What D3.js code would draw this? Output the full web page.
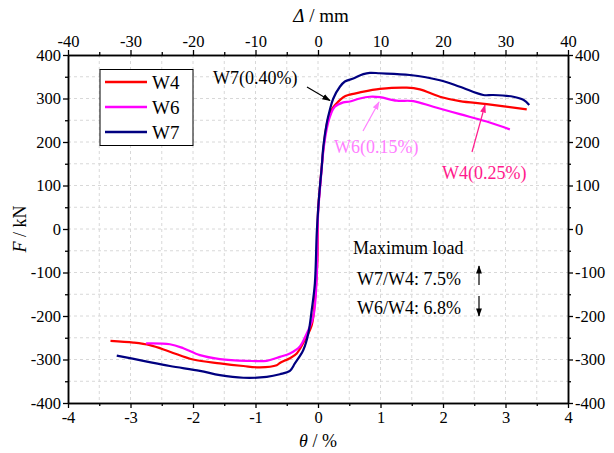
<!DOCTYPE html>
<html><head><meta charset="utf-8">
<script src="https://cdn.jsdelivr.net/npm/d3@7"></script>
<style>body{margin:0;background:#fff}svg{display:block}svg text{font-family:'Liberation Serif','Times New Roman',Times,serif !important}</style>
</head><body>
<svg id="c" width="614" height="453" font-family="'Liberation Serif', serif"></svg>
<script>
const seriesNames = ["W4", "W6", "W7"];
const seriesColors = ["#ff0000", "#ff00ff", "#000080"];
const w4Theta = [-3.32,-2.955,-2.69,-2.37,-2.0,-1.57,-1.195,-0.93,-0.66,-0.61,-0.45,-0.34,-0.21,-0.1,-0.05,-0.01,0.0,0.03,0.06,0.09,0.14,0.19,0.245,0.325,0.405,0.485,0.67,0.99,1.42,1.63,1.95,2.27,2.7,3.34];
const w4Force = [-257,-261,-267,-282,-300,-309,-315,-318,-313,-308,-297,-286,-255,-221,-163,-71,40,95,145,190,240,266,280,293,303,308,314,322,325,321,304,294,287,275];
const w6Theta = [-2.75,-2.37,-2.155,-1.89,-1.57,-1.14,-0.82,-0.61,-0.45,-0.29,-0.18,-0.075,-0.02,0.0,0.03,0.06,0.09,0.14,0.19,0.27,0.405,0.51,0.67,0.83,0.99,1.26,1.525,1.845,2.27,2.7,3.07];
const w6Force = [-263,-265,-274,-290,-299,-303,-303,-294,-286,-270,-240,-202,-110,30,90,140,185,230,258,281,291,293,300,304,303,295,294,281,264,247,229];
const w7Theta = [-3.22,-2.795,-2.37,-1.89,-1.57,-1.195,-0.82,-0.61,-0.45,-0.37,-0.235,-0.155,-0.1,-0.05,-0.02,0.005,0.03,0.06,0.085,0.14,0.19,0.245,0.35,0.43,0.565,0.725,0.83,0.99,1.47,1.95,2.27,2.645,2.8,3.125,3.285,3.38];
const w7Force = [-291,-303,-315,-326,-336,-342,-340,-334,-326,-309,-278,-240,-186,-125,-10,51,97,143,189,243,274,300,327,339,346,356,359,358,354,342,327,308,308,304,297,285];
const xTicks = [-4,-3,-2,-1,0,1,2,3,4];
const topTicks = [-40,-30,-20,-10,0,10,20,30,40];
const yTicks = [-400,-300,-200,-100,0,100,200,300,400];

const FONT = "'Liberation Serif', 'Times New Roman', serif";
const TICKFS = 16.5;
const svg = d3.select("#c");
const L=68, R=568, T=55, B=403;
const x = d3.scaleLinear().domain([-4,4]).range([L,R]);
const xTop = d3.scaleLinear().domain([-40,40]).range([L,R]);
const y = d3.scaleLinear().domain([-400,400]).range([B,T]);
const fmt = d => String(d);

// grid
const gx = d3.range(-3.5,4,0.5), gy = d3.range(-350,400,50);
svg.append("g").selectAll("line").data(gx).join("line")
  .attr("x1",d=>x(d)).attr("x2",d=>x(d)).attr("y1",T).attr("y2",B)
  .attr("stroke","#d8d8d8").attr("stroke-dasharray","3,3").attr("stroke-width",1);
svg.append("g").selectAll("line").data(gy).join("line")
  .attr("y1",d=>y(d)).attr("y2",d=>y(d)).attr("x1",L).attr("x2",R)
  .attr("stroke","#d8d8d8").attr("stroke-dasharray","3,3").attr("stroke-width",1);

// curves
const data = [[w4Theta,w4Force],[w6Theta,w6Force],[w7Theta,w7Force]];
const lineC = d3.line().x(d=>x(d[0])).y(d=>y(d[1])).curve(d3.curveCatmullRom.alpha(0.5));
data.forEach((s,i)=>{
  const pts = s[0].map((t,j)=>[t,s[1][j]]);
  svg.append("path").attr("d",lineC(pts)).attr("fill","none")
    .attr("stroke",seriesColors[i]).attr("stroke-width",2.2).attr("stroke-linejoin","round");
});

// axes
function styleAxis(g){g.attr("font-family",FONT).attr("font-size",TICKFS);
  g.selectAll("path").attr("stroke","#000").attr("stroke-width",1.5);
  g.selectAll("line").attr("stroke","#000").attr("stroke-width",1.3);
  g.selectAll("text").attr("font-size",TICKFS).attr("font-family",FONT).attr("fill","#000");}
const minorX = d3.range(-3.5,4,1), minorY = d3.range(-350,400,100);
svg.append("g").attr("transform",`translate(0,${B})`).call(d3.axisBottom(x).tickValues(xTicks).tickFormat(fmt).tickSize(5).tickPadding(3).tickSizeOuter(0)).call(styleAxis);
svg.append("g").attr("transform",`translate(0,${T})`).call(d3.axisTop(xTop).tickValues(topTicks).tickFormat(fmt).tickSize(5).tickPadding(3).tickSizeOuter(0)).call(styleAxis);
svg.append("g").attr("transform",`translate(${L},0)`).call(d3.axisLeft(y).tickValues(yTicks).tickFormat(fmt).tickSize(5).tickPadding(2).tickSizeOuter(0)).call(styleAxis);
svg.append("g").attr("transform",`translate(${R},0)`).call(d3.axisRight(y).tickValues(yTicks).tickFormat(fmt).tickSize(5).tickPadding(2).tickSizeOuter(0)).call(styleAxis);
// minor ticks
svg.append("g").attr("transform",`translate(0,${B})`).call(d3.axisBottom(x).tickValues(minorX).tickSize(3).tickFormat("").tickSizeOuter(0)).call(styleAxis);
svg.append("g").attr("transform",`translate(0,${T})`).call(d3.axisTop(x).tickValues(minorX).tickSize(3).tickFormat("").tickSizeOuter(0)).call(styleAxis);
svg.append("g").attr("transform",`translate(${L},0)`).call(d3.axisLeft(y).tickValues(minorY).tickSize(3).tickFormat("").tickSizeOuter(0)).call(styleAxis);
svg.append("g").attr("transform",`translate(${R},0)`).call(d3.axisRight(y).tickValues(minorY).tickSize(3).tickFormat("").tickSizeOuter(0)).call(styleAxis);

// axis titles
const tb = svg.append("text").attr("x",318).attr("y",447).attr("text-anchor","middle").attr("font-size",18).attr("font-family",FONT);
tb.append("tspan").attr("font-style","italic").text("θ");tb.append("tspan").text(" / %");
const tt = svg.append("text").attr("x",321).attr("y",22).attr("text-anchor","middle").attr("font-size",19).attr("font-family",FONT);
tt.append("tspan").attr("font-style","italic").text("Δ");tt.append("tspan").text(" / mm");
const tl = svg.append("text").attr("transform","translate(26,229) rotate(-90)").attr("text-anchor","middle").attr("font-size",18).attr("font-family",FONT);
tl.append("tspan").attr("font-style","italic").text("F");tl.append("tspan").text(" / kN");

// legend
svg.append("rect").attr("x",100).attr("y",69.5).attr("width",93).attr("height",76).attr("fill","#fff").attr("stroke","#000").attr("stroke-width",1);
seriesNames.forEach((n,i)=>{
  const yy = 82 + i*25;
  svg.append("line").attr("x1",105).attr("x2",147).attr("y1",yy).attr("y2",yy).attr("stroke",seriesColors[i]).attr("stroke-width",2.5);
  svg.append("text").attr("x",152).attr("y",yy+6.5).attr("font-size",19).attr("font-family",FONT).text(n);
});

// annotations
svg.append("defs").html(`
<marker id="ab" viewBox="0 0 10 10" refX="9" refY="5" markerWidth="7" markerHeight="7" orient="auto-start-reverse"><path d="M0,1.5L10,5L0,8.5z" fill="#000"/></marker>
<marker id="am" viewBox="0 0 10 10" refX="9" refY="5" markerWidth="7" markerHeight="7" orient="auto-start-reverse"><path d="M0,1.5L10,5L0,8.5z" fill="#ff80ff"/></marker>
<marker id="ap" viewBox="0 0 10 10" refX="9" refY="5" markerWidth="7" markerHeight="7" orient="auto-start-reverse"><path d="M0,1.5L10,5L0,8.5z" fill="#ff1a8c"/></marker>`);
function txt(xp,yp,s,size,col){return svg.append("text").attr("x",xp).attr("y",yp).attr("font-size",size).attr("font-family",FONT).attr("fill",col||"#000").text(s);}
txt(213,84,"W7(0.40%)",18);
svg.append("line").attr("x1",307).attr("y1",87).attr("x2",330).attr("y2",100.5).attr("stroke","#000").attr("stroke-width",1.2).attr("marker-end","url(#ab)");
txt(334,153,"W6(0.15%)",18,"#ff80ff");
svg.append("line").attr("x1",363).attr("y1",131).attr("x2",379).attr("y2",102).attr("stroke","#ff80ff").attr("stroke-width",1.2).attr("marker-end","url(#am)");
txt(442,179,"W4(0.25%)",18,"#ff1a8c");
svg.append("line").attr("x1",472).attr("y1",152).attr("x2",485).attr("y2",105).attr("stroke","#ff1a8c").attr("stroke-width",1.2).attr("marker-end","url(#ap)");

txt(353,254,"Maximum load",18);
txt(357,285,"W7/W4: 7.5%",18);
txt(357,314,"W6/W4: 6.8%",18);
svg.append("line").attr("x1",479).attr("y1",285).attr("x2",479).attr("y2",266).attr("stroke","#000").attr("stroke-width",1.2).attr("marker-end","url(#ab)");
svg.append("line").attr("x1",479).attr("y1",296).attr("x2",479).attr("y2",316).attr("stroke","#000").attr("stroke-width",1.2).attr("marker-end","url(#ab)");
</script>
</body></html>
